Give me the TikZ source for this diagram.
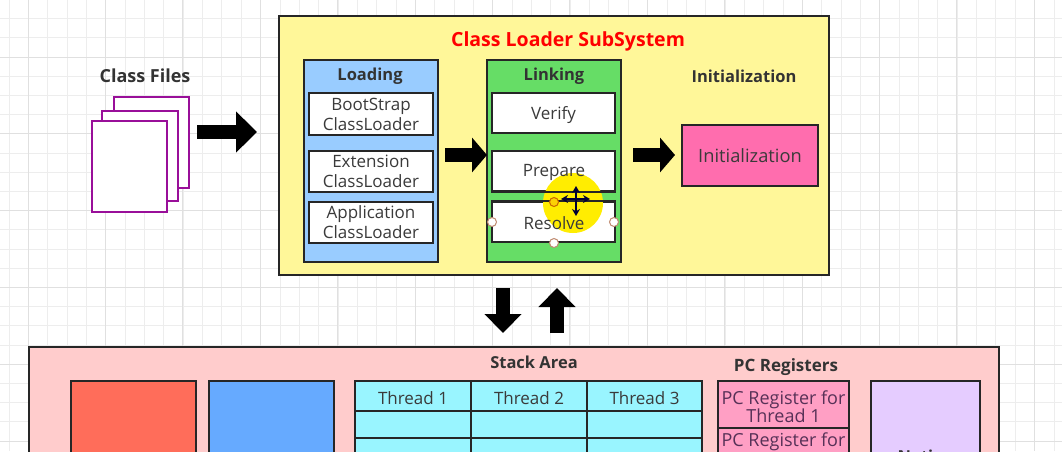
\documentclass[tikz,border=0pt]{standalone}
\usepackage{fontspec}
\setmainfont{Open Sans}
\usetikzlibrary{arrows.meta}
\newcommand{\bx}[6][]{%
  \bxi{#1}{#2}{#3}{#4}{#5}{#6}}
\newcommand{\bxi}[7]{%
  \pgfmathsetmacro{\cxx}{(#3+#5)/2}\pgfmathsetmacro{\cyy}{(#4+#6)/2}%
  \pgfmathsetmacro{\wdd}{#5-#3}\pgfmathsetmacro{\htt}{#6-#4}%
  \node[boxn,#1,minimum width=\wdd pt,minimum height=\htt pt] (#2) at (\cxx,\cyy) {#7};}
\newcommand{\lw}[1]{\raisebox{-2pt}[\height][\depth]{#1}}
\definecolor{tx}{HTML}{3A3A3A}
\definecolor{grida}{HTML}{EDEDED}
\definecolor{gridb}{HTML}{E0E0E0}
\definecolor{pagec}{HTML}{990F99}
\definecolor{hb}{HTML}{C08A70}
\definecolor{clyel}{HTML}{FFF799}
\definecolor{lblue}{HTML}{99CCFF}
\definecolor{lgreen}{HTML}{66DD66}
\definecolor{ipink}{HTML}{FF6DAE}
\definecolor{rpink}{HTML}{FFCCCC}
\definecolor{rred}{HTML}{FF6D5A}
\definecolor{rblue}{HTML}{66AAFF}
\definecolor{cyanb}{HTML}{99F5FF}
\definecolor{pcp}{HTML}{FF9FC4}
\definecolor{nat}{HTML}{E5CCFF}
\tikzset{
  x=1pt,y=-1pt,
  boxn/.style={draw=black!85,line width=2pt,inner sep=0pt,align=center,text=tx,font=\fontsize{17}{20}\selectfont},
  ttl/.style={inner sep=0pt,text=black!80,font=\fontsize{16.5}{20}\selectfont\bfseries},
  fat/.style={line width=14pt,black,-{Triangle[length=21pt,width=40pt]}},
  page/.style={draw=pagec,fill=white,line width=1.6pt},
  handle/.style={circle,draw=hb,fill=white,line width=1pt,minimum size=9pt,inner sep=0pt},
  curs/.style={line width=1.6pt,black!80!blue,{Stealth[length=7pt,width=8pt]}-{Stealth[length=7pt,width=8pt]}},
  overt/.style={inner sep=0pt,text=tx,font=\fontsize{17}{20}\selectfont},
  pctx/.style={font=\fontsize{18}{18}\selectfont,text=tx!85!magenta},
}
\begin{document}
\begin{tikzpicture}
\useasboundingbox (0,0) rectangle (1062,451);
\clip (0,0) rectangle (1062,451);
\fill[white] (0,0) rectangle (1062,451);
% grid
\foreach \i in {0,...,55}{
  \pgfmathsetmacro{\gx}{9+19.35*\i}
  \draw[grida,line width=.8pt] (\gx,0) -- (\gx,451);}
\foreach \i in {0,...,23}{
  \pgfmathsetmacro{\gy}{18.5+19.2*\i}
  \draw[grida,line width=.8pt] (0,\gy) -- (1062,\gy);}
\foreach \i in {0,...,13}{
  \pgfmathsetmacro{\gx}{28+77.4*\i}
  \draw[gridb,line width=.9pt] (\gx,0) -- (\gx,451);}
\foreach \i in {0,...,5}{
  \pgfmathsetmacro{\gy}{57+76.8*\i}
  \draw[gridb,line width=.9pt] (0,\gy) -- (1062,\gy);}
% class files
\node[ttl,font=\fontsize{18}{20}\selectfont\bfseries] (cf) at (145,76) {Class Files};
\bx[page]{p3}{114}{97}{189}{188}{}
\bx[page]{p2}{102}{111}{178}{201}{}
\bx[page]{p1}{92}{121}{167}{212}{}
% class loader
\bx[fill=clyel]{cl}{279}{16}{829}{275}{}
\node[ttl,text=red,font=\fontsize{19.5}{22}\selectfont\bfseries] (clt) at (568,41.5) {Class Loader SubSystem};
\bx[fill=lblue]{load}{304}{60}{438}{262}{}
\node[ttl] (loadt) at (370,76) {Loading};
\bx[fill=white]{boot}{309}{93}{433}{135}{BootStrap\\ClassLoader}
\bx[fill=white]{ext}{309}{151}{433}{192}{Extension\\ClassLoader}
\bx[fill=white]{app}{309}{202}{433}{243}{Application\\ClassLoader}
\bx[fill=lgreen]{link}{487}{60}{621}{262}{}
\node[ttl] (linkt) at (554,76) {Linking};
\bx[fill=white]{ver}{492}{93}{615}{133}{\lw{Verify}}
\bx[fill=white]{pre}{492}{151}{615}{191}{}
\bx[fill=white]{res}{492}{202}{615}{242}{}
\node[ttl] (initt) at (744,76) {Initialization};
\bx[fill=ipink,font=\fontsize{18.3}{20}\selectfont]{init}{682}{125}{818}{186}{Initialization}
% arrows
\coordinate (a0) at (197,132); \coordinate (a1) at (257,132);
\coordinate (b0) at (445,155); \coordinate (b1) at (487,155);
\coordinate (c0) at (633,155); \coordinate (c1) at (675,155);
\coordinate (d0) at (503,288); \coordinate (d1) at (503,333);
\coordinate (e0) at (557,333); \coordinate (e1) at (557,288);
\draw[fat] (a0) -- (a1);
\draw[fat,-{Triangle[length=15pt,width=34pt]}] (b0) -- (b1);
\draw[fat,-{Triangle[length=15pt,width=34pt]}] (c0) -- (c1);
\draw[fat,-{Triangle[length=19pt,width=36pt]}] (d0) -- (d1);
\draw[fat,-{Triangle[length=19pt,width=36pt]}] (e0) -- (e1);
% runtime data
\bx[fill=rpink]{rt}{29}{347}{999}{520}{}
\node[ttl] (sat) at (534,362) {Stack Area};
\node[ttl,font=\fontsize{17}{20}\selectfont\bfseries] (pct) at (786,367) {PC Registers};
\bx[fill=rred]{red}{71}{381}{196}{520}{}
\bx[fill=rblue]{blu}{209}{381}{334}{520}{}
\foreach \c/\xa/\xb/\t in {1/355/471/Thread 1,2/471/587/Thread 2,3/587/702/Thread 3}{
  \bx[fill=cyanb]{th\c}{\xa}{381}{\xb}{411}{\lw{\t}}
  \bx[fill=cyanb]{tr\c}{\xa}{411}{\xb}{438}{}
  \bx[fill=cyanb]{ts\c}{\xa}{438}{\xb}{464}{}
}
\bx[fill=pcp,pctx]{pc1}{718}{381}{849}{428}{\lw{PC Register for}\\\lw{Thread 1}}
\bx[fill=pcp]{pc2}{718}{428}{849}{475}{}
\node[inner sep=0pt,pctx] (pc2t) at (783.5,441.5) {PC Register for};
\bx[fill=nat]{nat}{871}{381}{980}{520}{}
\node[ttl] (natt) at (925,456) {Native};
% selection overlay
\fill[yellow!95!orange] (573,203) circle (30);
\draw[black!85,line width=2pt] (res.north west) -- (res.north east);
\draw[black!85,line width=2pt] (pre.south west) -- (pre.south east);
\node[overt] (pre2) at (554,172) {Prepare};
\node[overt] (res2) at (554,223) {Resolve};
\node[handle,fill=yellow!70!orange,draw=orange!80!black] (h1) at (554,202) {};
\node[handle] (h2) at (492,222) {};
\node[handle] (h3) at (614,222) {};
\node[handle] (h4) at (554,243) {};
\coordinate (k0) at (561,199); \coordinate (k1) at (590,199);
\coordinate (k2) at (576,186); \coordinate (k3) at (576,216);
\draw[curs] (k0) -- (k1);
\draw[curs] (k2) -- (k3);
\end{tikzpicture}
\end{document}
